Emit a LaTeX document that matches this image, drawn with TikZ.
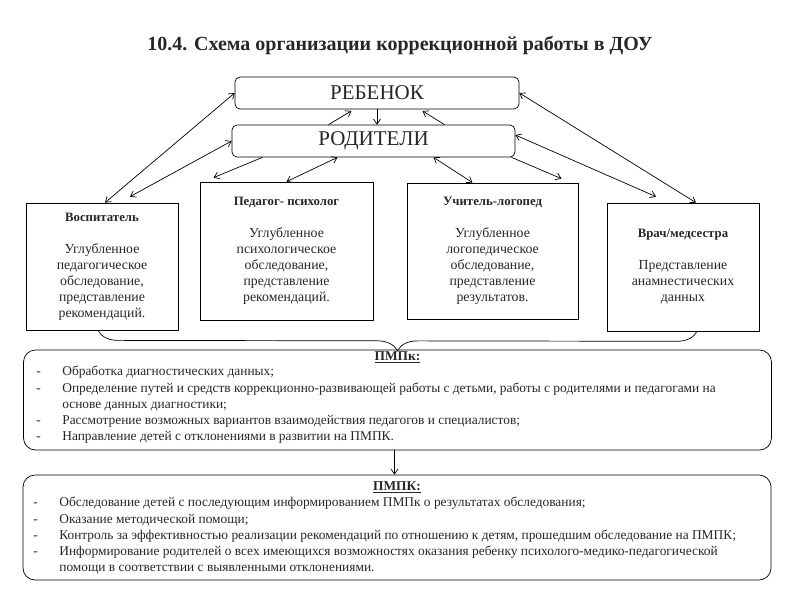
\documentclass[tikz,border=0pt]{standalone}
\usepackage{fontspec}
\setmainfont{Liberation Serif}
\usetikzlibrary{arrows.meta,decorations.pathreplacing}

\newcommand{\bodyfont}{\fontsize{13.8}{16}\selectfont}
\newcommand{\listfont}{\fontsize{13.4}{16.2}\selectfont}
\newcommand{\rolehead}[1]{{\fontsize{12.8}{16}\selectfont\bfseries #1}}
\newcommand{\dashitem}{\makebox[26pt][l]{-}}
\newcommand{\contline}{\hspace*{26pt}}

\begin{document}
\begin{tikzpicture}[>={Straight Barb[length=5pt,width=7pt]},x=1pt,y=-1pt,line width=0.7pt,
	every node/.style={inner sep=0pt,text=black!85},
	topbox/.style={draw,rounded corners=5pt,minimum width=284pt,minimum height=32pt,font=\fontsize{21}{24}\selectfont},
	rolebox/.style={draw,align=center,font=\bodyfont},
	panel/.style={draw,rounded corners=12pt,minimum width=748pt},
	listtext/.style={anchor=north west,align=left,font=\listfont}]
	\useasboundingbox (0,0) rectangle (800,600);
	\node[font=\fontsize{20}{24}\selectfont\bfseries] (title) at (400,45) {10.4. Схема организации коррекционной работы в ДОУ};
	% ребенок и родители
	\node[topbox] (child) at (377,93) {РЕБЕНОК};
	\node[topbox,minimum width=283pt] (parents) at (373.5,141) {РОДИТЕЛИ};
	% специалисты
	\node[rolebox,minimum width=152pt,minimum height=127pt] (vosp) at (102,266.5) {\rolehead{Воспитатель}\\[16pt]Углубленное\\педагогическое\\обследование,\\представление\\рекомендаций.};
	\node[rolebox,minimum width=173pt,minimum height=138pt] (psych) at (286.5,251) {\rolehead{Педагог- психолог}\\[16pt]Углубленное\\психологическое\\обследование,\\представление\\рекомендаций.};
	\node[rolebox,minimum width=171pt,minimum height=136pt] (logo) at (492.5,251) {\rolehead{Учитель-логопед}\\[16pt]Углубленное\\логопедическое\\обследование,\\представление\\результатов.};
	\node[rolebox,minimum width=152pt,minimum height=128pt] (doc) at (683,267) {\rolehead{Врач/медсестра}\\[16pt]Представление\\анамнестических\\данных};
	% ПМПк
	\node[panel,minimum height=100pt] (pmpk) at (397.5,400) {};
	\node[font=\listfont\bfseries] (pmpkT) at (397.5,357) {\underline{ПМПк:}};
	\node[listtext] (pmpkL) at (36,366) {\dashitem Обработка диагностических данных;\\
		\dashitem Определение путей и средств коррекционно-развивающей работы с детьми, работы с родителями и педагогами на\\
		\contline основе данных диагностики;\\
		\dashitem Рассмотрение возможных вариантов взаимодействия педагогов и специалистов;\\
		\dashitem Направление детей с отклонениями в развитии на ПМПК.};
	% ПМПК
	\node[panel,minimum height=105pt] (pmpkk) at (397,527.5) {};
	\node[font=\listfont\bfseries] (pmpkkT) at (397,487) {\underline{ПМПК:}};
	\node[listtext] (pmpkkL) at (33,497) {\dashitem Обследование детей с последующим информированием ПМПк о результатах  обследования;\\
		\dashitem Оказание методической помощи;\\
		\dashitem Контроль за эффективностью реализации рекомендаций по отношению к детям, прошедшим обследование на ПМПК;\\
		\dashitem Информирование родителей о всех имеющихся возможностях оказания ребенку психолого-медико-педагогической\\
		\contline помощи в соответствии с выявленными отклонениями.};
	% стрелки
	\draw[->] (child.south) -- (child.south |- parents.north);
	\draw[->,shorten >=3pt] ([xshift=-45pt]parents.north) -- ([xshift=-23pt]child.south);
	\draw[->,shorten >=3pt] ([xshift=71pt]parents.north) -- ([xshift=43pt]child.south);
	\draw[<->] (child.west) -- ([xshift=3pt]vosp.north);
	\draw[<->] (parents.west) -- ([xshift=28pt,yshift=6pt]vosp.north);
	\draw[->] ([xshift=-111pt]parents.south) -- ([xshift=-73pt,yshift=4pt]psych.north);
	\draw[<->] ([xshift=-36pt]parents.south) -- (psych.north);
	\draw[<->] ([xshift=60pt]parents.south) -- ([xshift=-20pt]logo.north);
	\draw[->] ([xshift=138pt]parents.south) -- ([xshift=69pt,yshift=4pt]logo.north);
	\draw[<->] ([yshift=6pt]parents.east) -- ([xshift=-27pt,yshift=6pt]doc.north);
	\draw[<->] (child.east) -- ([xshift=13pt]doc.north);
	\draw[decorate,decoration={brace,mirror,amplitude=20pt}] ([xshift=-4pt]vosp.south) -- ([xshift=14pt]doc.south);
	\draw[->] ([xshift=-3pt]pmpk.south) -- ([xshift=-3pt]pmpk.south |- pmpkk.north);
\end{tikzpicture}
\end{document}
